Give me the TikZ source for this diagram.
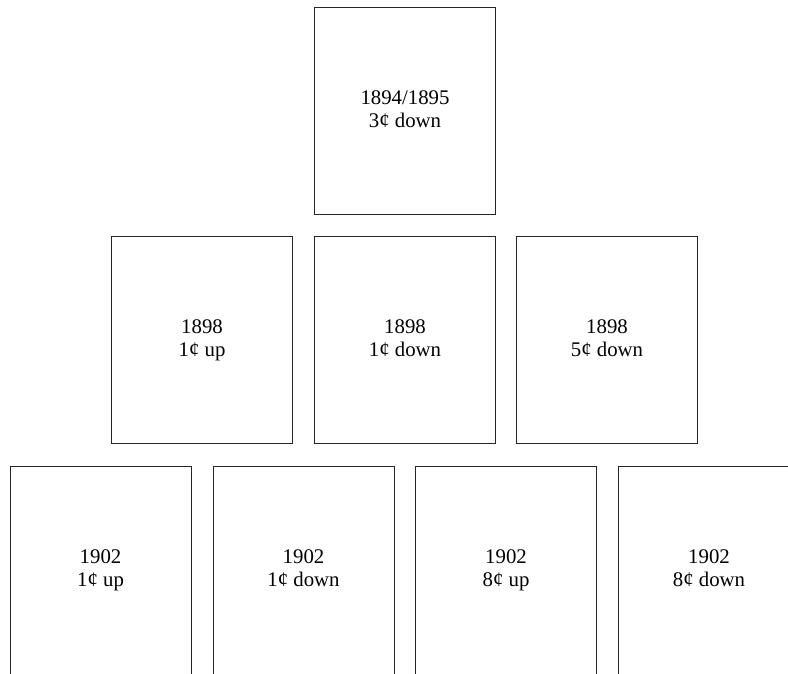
\documentclass[tikz,border=0pt]{standalone}
\usepackage{fontspec}
\setmainfont{Liberation Serif}
\usetikzlibrary{positioning}

\begin{document}
\begin{tikzpicture}[
  x=1pt,y=-1pt,
  stamp/.style={draw=black!85,line width=.9pt,minimum width=181pt,
    minimum height=207.5pt,inner sep=0pt,align=center,
    font=\fontsize{20.8}{23}\selectfont}
]
  \useasboundingbox (0,0) rectangle (788,673);
  \clip (0,0) rectangle (788,673);

  \node[stamp] (issue) at (405,111) {\strut 1894/1895\\\strut 3¢ down};

  \foreach \x/\name/\txt in {202/ba/1¢ up,405/bb/1¢ down,607/bc/5¢ down}
    \node[stamp] (\name) at (\x,340) {\strut 1898\\\strut\txt};

  % bottom row runs past the lower edge
  \foreach \x/\name/\txt in {100.5/ca/1¢ up,303.5/cb/1¢ down,
      506/cc/8¢ up,709/cd/8¢ down}
    \node[stamp,minimum height=209pt] (\name) at (\x,570.5)
      {\strut 1902\\\strut\txt};
\end{tikzpicture}
\end{document}
